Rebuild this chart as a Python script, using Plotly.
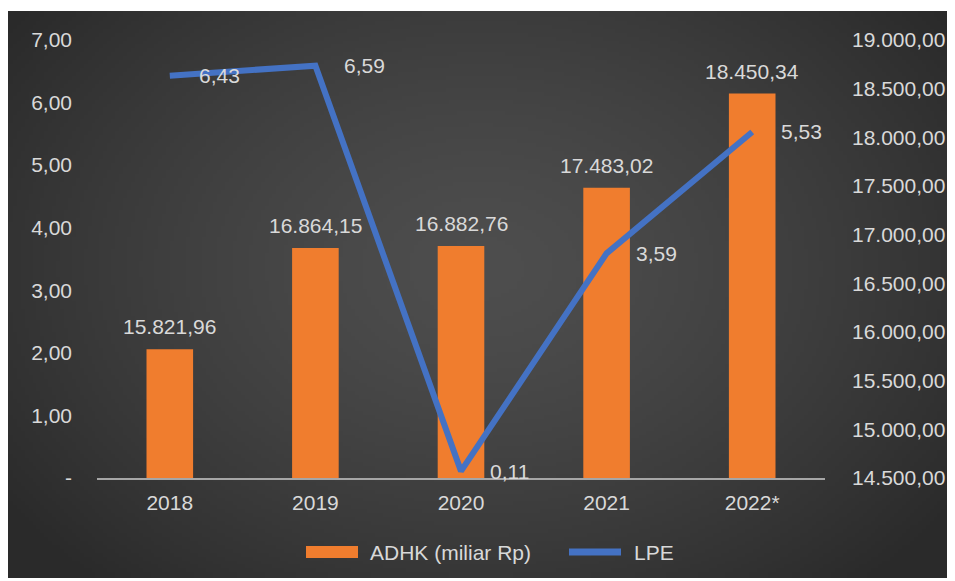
import base64, struct, zlib
import numpy as np
import plotly.graph_objects as go

# ---- data ----
years = ["2018", "2019", "2020", "2021", "2022*"]
adhk = [15821.96, 16864.15, 16882.76, 17483.02, 18450.34]
adhk_labels = ["15.821,96", "16.864,15", "16.882,76", "17.483,02", "18.450,34"]
lpe = [6.43, 6.59, 0.11, 3.59, 5.53]
lpe_labels = ["6,43", "6,59", "0,11", "3,59", "5,53"]
left_ticks = [0, 1, 2, 3, 4, 5, 6, 7]
left_ticktext = ["-", "1,00", "2,00", "3,00", "4,00", "5,00", "6,00", "7,00"]
right_ticks = [14500, 15000, 15500, 16000, 16500, 17000, 17500, 18000, 18500, 19000]
right_ticktext = ["14.500,00", "15.000,00", "15.500,00", "16.000,00", "16.500,00",
                  "17.000,00", "17.500,00", "18.000,00", "18.500,00", "19.000,00"]
series_names = ["ADHK (miliar Rp)", "LPE"]

# category index positions on the x axis (mapped to year labels via ticktext)
xpos = list(range(len(years)))

BAR_COLOR = "#f07d2e"
LINE_COLOR = "#4472c4"


# ---- radial gradient background image ----
def make_png(arr):
    h, w = arr.shape[:2]
    raw = b"".join(b"\x00" + arr[i].tobytes() for i in range(h))

    def chunk(t, d):
        c = struct.pack(">I", len(d)) + t + d
        return c + struct.pack(">I", zlib.crc32(t + d) & 0xffffffff)

    return (b"\x89PNG\r\n\x1a\n" + chunk(b"IHDR", struct.pack(">IIBBBBB", w, h, 8, 2, 0, 0, 0))
            + chunk(b"IDAT", zlib.compress(raw, 9)) + chunk(b"IEND", b""))


W, H = 240, 144
yy, xx = np.mgrid[0:H, 0:W]
d = np.sqrt(((xx - W * 0.5) / (W * 0.62)) ** 2 + ((yy - H * 0.45) / (H * 0.75)) ** 2)
d = np.clip(d, 0, 1)
g = (78 - 36 * d ** 1.4).astype(np.uint8)
img = np.stack([g, g, g], axis=-1).astype(np.uint8)
src = "data:image/png;base64," + base64.b64encode(make_png(img)).decode()

FONT = "Liberation Sans, Arial, sans-serif"
TXT = "#d9d9d9"
FS = 21

# page body has an 8px margin: figure occupies page px 8..955 / 8..581
OFF = 8
FW, FH = 955 - OFF, 581 - OFF
L, R, T, B = 97 - OFF, 955 - 825, 40 - OFF, 581 - 478
PW, PH = FW - L - R, FH - T - B


def px_x(p):  # page px -> paper x
    return (p - OFF - L) / PW


def px_y(p):  # page px -> paper y
    return (FH - B - (p - OFF)) / PH


fig = go.Figure()
fig.add_trace(go.Bar(x=xpos, y=adhk, name=series_names[0], yaxis="y", showlegend=False,
                     marker=dict(color=BAR_COLOR, line=dict(width=0)), width=0.32))
fig.add_trace(go.Scatter(x=xpos, y=lpe, name=series_names[1], yaxis="y2", mode="lines",
                         showlegend=False, line=dict(color=LINE_COLOR, width=6)))

ann = []
for x, v, t in zip(xpos, adhk, adhk_labels):
    ann.append(dict(x=x, y=v, xref="x", yref="y", text=t, showarrow=False,
                    yanchor="bottom", yshift=9, font=dict(size=FS, color=TXT, family=FONT)))
for x, v, t in zip(xpos, lpe, lpe_labels):
    ann.append(dict(x=x, y=v, xref="x", yref="y2", text=t, showarrow=False,
                    xanchor="left", yanchor="middle", xshift=27,
                    font=dict(size=FS, color=TXT, family=FONT)))

# legend (drawn to match the wide swatches of the original)
LEG_Y = 552
ann.append(dict(x=px_x(368), y=px_y(LEG_Y), xref="paper", yref="paper", text=series_names[0],
                showarrow=False, xanchor="left", yanchor="middle",
                font=dict(size=FS, color=TXT, family=FONT)))
ann.append(dict(x=px_x(632), y=px_y(LEG_Y), xref="paper", yref="paper", text=series_names[1],
                showarrow=False, xanchor="left", yanchor="middle",
                font=dict(size=FS, color=TXT, family=FONT)))
shapes = [
    dict(type="rect", xref="paper", yref="paper", x0=px_x(306), x1=px_x(358),
         y0=px_y(LEG_Y - 6), y1=px_y(LEG_Y + 6), fillcolor=BAR_COLOR, line=dict(width=0)),
    dict(type="line", xref="paper", yref="paper", x0=px_x(569), x1=px_x(621),
         y0=px_y(LEG_Y), y1=px_y(LEG_Y), line=dict(color=LINE_COLOR, width=7)),
]

fig.update_layout(
    width=FW, height=FH,
    margin=dict(l=L, r=R, t=T, b=B, autoexpand=False),
    paper_bgcolor="white", plot_bgcolor="rgba(0,0,0,0)",
    font=dict(family=FONT, size=FS, color=TXT),
    images=[dict(source=src, xref="paper", yref="paper", x=px_x(7), y=px_y(11),
                 sizex=px_x(951) - px_x(7), sizey=px_y(11) - px_y(578), sizing="stretch",
                 layer="below", xanchor="left", yanchor="top")],
    xaxis=dict(range=[-0.5, len(years) - 0.5], tickvals=xpos, ticktext=years,
               showgrid=False, zeroline=False, showline=True, linecolor="#a6a6a6", linewidth=2,
               ticks="", tickfont=dict(size=FS, color=TXT), ticklabelstandoff=5, automargin=False),
    yaxis=dict(side="right", range=[14500, 19000], tickvals=right_ticks, ticktext=right_ticktext,
               showgrid=False, zeroline=False, showline=False, ticks="",
               tickfont=dict(size=FS, color=TXT), ticklabelstandoff=26, automargin=False),
    yaxis2=dict(side="left", overlaying="y", range=[0, 7], tickvals=left_ticks, ticktext=left_ticktext,
                showgrid=False, zeroline=False, showline=False, ticks="",
                tickfont=dict(size=FS, color=TXT), ticklabelstandoff=24, automargin=False),
    annotations=ann,
    shapes=shapes,
    showlegend=False,
)

fig.write_html("out.html")
